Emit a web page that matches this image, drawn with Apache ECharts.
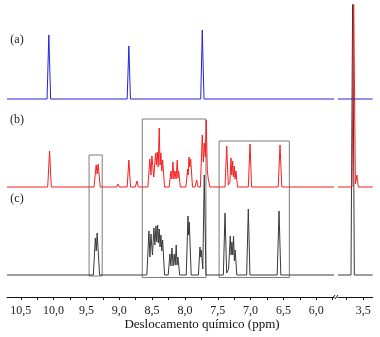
<!DOCTYPE html>
<html>
<head>
<meta charset="utf-8">
<script src="https://cdn.jsdelivr.net/npm/echarts@6/dist/echarts.min.js"></script>
<style>
    html, body { margin: 0; padding: 0; background: #ffffff; }
    #chart { width: 380px; height: 337px; }
</style>
</head>
<body>
<div id="chart"></div>
<script>
// chemical shift (ppm) / intensity pairs
var blueMain = [[10.71, 0], [10.10, 0], [10.073, 64], [10.045, 0], [8.88, 0], [8.854, 53], [8.83, 0],
    [7.76, 0], [7.736, 69], [7.71, 0], [5.73, 0]];
var blueTail = [[3.88, 0], [3.36, 0]];

var redMain = [[10.71, 0], [10.09, 0], [10.062, 36], [10.035, 0],
    [9.385, 0], [9.352, 22], [9.337, 13], [9.322, 23], [9.29, 0],
    [9.04, 0], [9.02, 3], [9.0, 0],
    [8.88, 0], [8.854, 27], [8.828, 0],
    [8.755, 0], [8.732, 6], [8.71, 0],
    [8.565, 0], [8.534, 28], [8.518, 12], [8.503, 31], [8.475, 10], [8.447, 34], [8.435, 22], [8.422, 35],
    [8.407, 20], [8.392, 59], [8.379, 22], [8.366, 34], [8.353, 16], [8.34, 27], [8.31, 0],
    [8.24, 0], [8.213, 16], [8.198, 8], [8.183, 25], [8.168, 8], [8.152, 16], [8.135, 8], [8.117, 27],
    [8.106, 9], [8.096, 16], [8.07, 0],
    [7.985, 0], [7.959, 18], [7.95, 12], [7.939, 30], [7.926, 20], [7.913, 28], [7.885, 0],
    [7.845, 0], [7.822, 7], [7.80, 0],
    [7.765, 0], [7.736, 52], [7.72, 25], [7.706, 44], [7.69, 30], [7.675, 67], [7.66, 17], [7.645, 8], [7.62, 0],
    [7.39, 0], [7.364, 41], [7.34, 2], [7.315, 5], [7.299, 29], [7.286, 12], [7.273, 26], [7.261, 10],
    [7.249, 21], [7.236, 8], [7.223, 16], [7.20, 0],
    [7.035, 0], [7.009, 43], [6.985, 0],
    [6.58, 0], [6.552, 42], [6.525, 0],
    [5.73, 0]];
var redTail = [[3.88, 0], [3.67, 0], [3.645, 190], [3.62, 3], [3.597, 12], [3.575, 0], [3.36, 0]];

var blackMain = [[10.71, 0],
    [9.395, 0], [9.365, 37], [9.351, 24], [9.337, 42], [9.30, 0],
    [8.58, 0], [8.549, 44], [8.533, 18], [8.518, 41], [8.495, 20], [8.473, 47], [8.458, 30], [8.442, 49],
    [8.429, 33], [8.416, 50], [8.404, 32], [8.392, 46], [8.379, 28], [8.366, 40], [8.353, 24], [8.34, 35], [8.31, 0],
    [8.255, 0], [8.229, 21], [8.214, 9], [8.198, 27], [8.18, 9], [8.163, 21], [8.148, 10], [8.133, 30],
    [8.12, 10], [8.107, 18], [8.08, 0],
    [7.98, 0], [7.954, 59], [7.944, 40], [7.934, 53], [7.905, 0],
    [7.795, 0], [7.771, 28], [7.761, 18], [7.751, 25], [7.728, 6], [7.706, 100], [7.68, 0],
    [7.415, 0], [7.39, 62], [7.365, 2], [7.335, 6], [7.31, 39], [7.297, 20], [7.285, 33], [7.272, 20],
    [7.26, 39], [7.247, 14], [7.235, 25], [7.21, 0],
    [7.06, 0], [7.035, 66], [7.01, 0],
    [6.595, 0], [6.567, 64], [6.54, 0],
    [5.73, 0]];
var blackTail = [[3.88, 0], [3.685, 0], [3.66, 285], [3.635, 0], [3.36, 0]];

// vertical offsets of the stacked traces: (c) black, (b) red, (a) blue
var traceOffsets = [0, 88, 176];
var traceNames = ['(c)', '(b)', '(a)'];
var traceColors = ['#3a3a3a', '#f51f1f', '#2424d8'];

// peaks marked with * in spectrum (b)
var asteriskShifts = [10.062, 8.854, 7.675];

// boxed regions [from ppm, to ppm, bottom, top]
var boxes = [[9.46, 9.26, -1, 120], [8.65, 7.68, -2.5, 156], [7.48, 6.41, -2.5, 134]];

var leftLabels = [6, 6.5, 7, 7.5, 8, 8.5, 9, 9.5, 10, 10.5];
var leftTicks = [5.75, 6, 6.25, 6.5, 6.75, 7, 7.25, 7.5, 7.75, 8, 8.25, 8.5, 8.75, 9, 9.25, 9.5, 9.75, 10, 10.25, 10.5];
var rightLabels = [3.5];
var rightTicks = [3.5, 3.75];

var chart = echarts.init(document.getElementById('chart'));

function shifted(data, offset) {
    var rows = [];
    for (var i = 0; i < data.length; i++) {
        rows.push([data[i][0], data[i][1] + offset]);
    }
    return rows;
}

function lineSeries(name, data, offset, color, gridIndex, z) {
    return {
        name: name,
        type: 'line',
        xAxisIndex: gridIndex,
        yAxisIndex: gridIndex,
        data: shifted(data, offset),
        showSymbol: false,
        symbol: 'none',
        clip: true,
        z: z,
        lineStyle: { color: color, width: 1 },
        silent: true
    };
}

function commaFormat(v) {
    return v.toFixed(1).replace('.', ',');
}

function makeAxis(gridIndex, min, max, labels, ticks) {
    return {
        gridIndex: gridIndex,
        type: 'value',
        inverse: true,
        min: min,
        max: max,
        axisLine: { onZero: false, lineStyle: { color: '#111111', width: 1 } },
        axisTick: { customValues: ticks, length: 3, lineStyle: { color: '#111111' } },
        axisLabel: {
            customValues: labels,
            formatter: commaFormat,
            fontFamily: 'Liberation Serif',
            fontSize: 12,
            color: '#222222',
            margin: 8
        },
        splitLine: { show: false }
    };
}

var series = [];
var mains = [blackMain, redMain, blueMain];
var tails = [blackTail, redTail, blueTail];
for (var i = 0; i < 3; i++) {
    series.push(lineSeries(traceNames[i], mains[i], traceOffsets[i], traceColors[i], 0, 2 + i));
    series.push(lineSeries(traceNames[i], tails[i], traceOffsets[i], traceColors[i], 1, 2 + i));
}

// boxes drawn on the black trace
var areas = [];
for (var b = 0; b < boxes.length; b++) {
    areas.push([{ coord: [boxes[b][0], boxes[b][2]] }, { coord: [boxes[b][1], boxes[b][3]] }]);
}
series[0].markArea = {
    silent: true,
    itemStyle: { color: 'rgba(0,0,0,0)', borderColor: '#7d7d7d', borderWidth: 1 },
    label: { show: false },
    data: areas
};

var stars = [];
for (var s = 0; s < asteriskShifts.length; s++) {
    for (var j = 0; j < redMain.length; j++) {
        if (redMain[j][0] === asteriskShifts[s]) {
            stars.push([redMain[j][0], redMain[j][1] + traceOffsets[1]]);
        }
    }
}
series.push({
    type: 'scatter',
    xAxisIndex: 0,
    yAxisIndex: 0,
    data: stars,
    symbolSize: 1,
    itemStyle: { opacity: 0 },
    silent: true,
    z: 6,
    label: {
        show: true,
        position: 'top',
        distance: 0,
        formatter: '*',
        fontFamily: 'Liberation Serif',
        fontSize: 11,
        color: '#555555'
    }
});

var labelY = [199, 120, 40];
var graphics = [];
for (var k = 0; k < 3; k++) {
    graphics.push({
        type: 'text',
        style: {
            text: traceNames[k], x: 17, y: labelY[k], textAlign: 'center', textVerticalAlign: 'middle',
            font: '12px "Liberation Serif"', fill: '#222222'
        }
    });
}
graphics.push({
    type: 'text',
    style: {
        text: 'Deslocamento químico (ppm)', x: 202, y: 325, textAlign: 'center', textVerticalAlign: 'middle',
        font: '13px "Liberation Serif"', fill: '#111111'
    }
});
// axis break marks
graphics.push({ type: 'line', shape: { x1: 332, y1: 299, x2: 335, y2: 295 }, style: { stroke: '#111111', lineWidth: 1 } });
graphics.push({ type: 'line', shape: { x1: 335, y1: 299, x2: 338, y2: 295 }, style: { stroke: '#111111', lineWidth: 1 } });

var option = {
    backgroundColor: '#ffffff',
    animation: false,
    grid: [
        { left: 7, right: 46, top: 5, bottom: 40 },
        { left: 338, right: 7.3, top: 5, bottom: 40 }
    ],
    xAxis: [
        makeAxis(0, 5.73, 10.71, leftLabels, leftTicks),
        makeAxis(1, 3.36, 3.88, rightLabels, rightTicks)
    ],
    yAxis: [
        { gridIndex: 0, type: 'value', min: -22, max: 270, show: false },
        { gridIndex: 1, type: 'value', min: -22, max: 270, show: false }
    ],
    graphic: graphics,
    series: series
};

chart.setOption(option);
</script>
</body>
</html>
